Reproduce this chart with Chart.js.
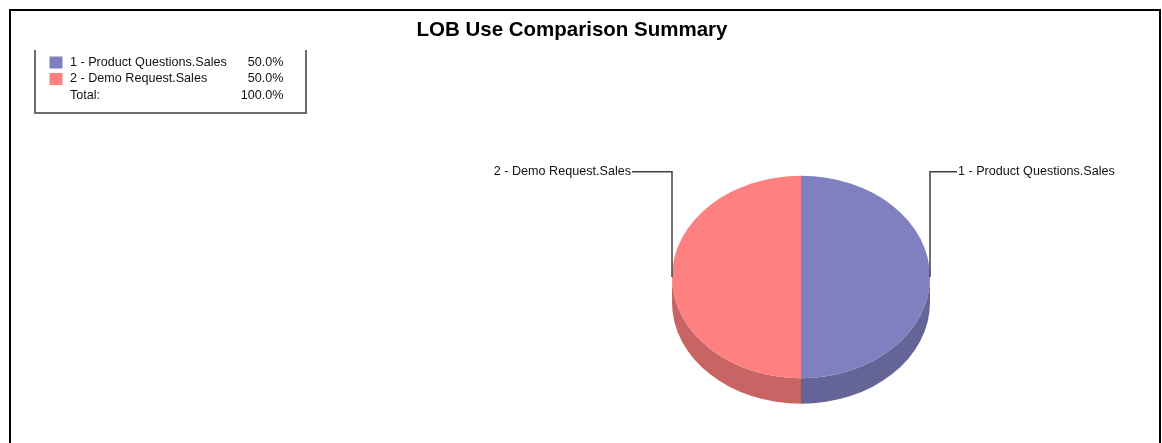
<!DOCTYPE html>
<html lang="en">
<head>
    <meta charset="UTF-8" />
    <title>LOB Use Comparison Summary</title>
    <style>
        body { margin: 0; background: #fff; }
        #wrap { position: relative; width: 1162px; height: 443px; }
    </style>
</head>
<body>
    <div id="wrap"><canvas id="myChart"></canvas></div>

    <script src="https://cdn.jsdelivr.net/npm/chart.js"></script>
    <script>
        // data
        const chartTitle = 'LOB Use Comparison Summary';
        const labels = ['1 - Product Questions.Sales', '2 - Demo Request.Sales'];
        const values = [50, 50];
        const colors = ['#8080c0', '#ff8080'];
        const sideColors = ['#646496', '#c86464'];
        const totalLabel = 'Total:';

        // look of the 3d pie
        const tilt = 0.785;      // vertical squash of the pie
        const depth = 25.5;      // height of the side wall
        const leaderLen = [27, 40];
        const font = '"Liberation Sans", Arial, sans-serif';

        const total = values.reduce((a, b) => a + b, 0);
        const pct = v => (v / total * 100).toFixed(1) + '%';

        const pie3d = {
            id: 'pie3d',
            beforeDraw(chart) {
                const ctx = chart.ctx;
                ctx.save();
                // outer frame
                ctx.strokeStyle = '#000';
                ctx.lineWidth = 2;
                ctx.strokeRect(10, 10, 1150, 500);

                // title
                ctx.fillStyle = '#000';
                ctx.font = 'bold 20.5px ' + font;
                ctx.textAlign = 'center';
                ctx.textBaseline = 'alphabetic';
                ctx.fillText(chartTitle, 572, 36);

                // legend box (open on top)
                ctx.strokeStyle = '#6a6a6a';
                ctx.lineWidth = 2;
                ctx.beginPath();
                ctx.moveTo(35, 50);
                ctx.lineTo(35, 113);
                ctx.lineTo(306, 113);
                ctx.lineTo(306, 50);
                ctx.stroke();

                ctx.font = '12.6px ' + font;
                ctx.textBaseline = 'middle';
                labels.forEach((lb, i) => {
                    const y = 62.5 + i * 16.5;
                    ctx.fillStyle = colors[i];
                    ctx.fillRect(49.5, y - 6, 13, 12);
                    ctx.fillStyle = '#111';
                    ctx.textAlign = 'left';
                    ctx.fillText(lb, 70, y);
                    ctx.textAlign = 'right';
                    ctx.fillText(pct(values[i]), 283.5, y);
                });
                const yt = 62.5 + labels.length * 16.5;
                ctx.textAlign = 'left';
                ctx.fillText(totalLabel, 70, yt);
                ctx.textAlign = 'right';
                ctx.fillText(pct(total), 283.5, yt);
                ctx.restore();
            },
            beforeDatasetsDraw(chart) {
                const ctx = chart.ctx;
                const meta = chart.getDatasetMeta(0);
                const cx = meta.data[0].x, cy = meta.data[0].y;
                ctx.save();
                ctx.translate(cx, cy);
                ctx.scale(1, tilt);
                ctx.translate(-cx, -cy);
                const d = depth / tilt;
                meta.data.forEach((arc, i) => {
                    const r = arc.outerRadius;
                    [0, -2 * Math.PI].forEach(shift => {
                        const a0 = Math.max(arc.startAngle + shift, 0);
                        const a1 = Math.min(arc.endAngle + shift, Math.PI);
                        if (a1 <= a0) return;
                        ctx.beginPath();
                        ctx.arc(cx, cy, r, a0, a1);
                        ctx.arc(cx, cy + d, r, a1, a0, true);
                        ctx.closePath();
                        ctx.fillStyle = sideColors[i];
                        ctx.fill();
                    });
                });
            },
            afterDatasetsDraw(chart) {
                chart.ctx.restore();
            },
            afterDraw(chart) {
                const ctx = chart.ctx;
                const meta = chart.getDatasetMeta(0);
                ctx.save();
                ctx.strokeStyle = '#404040';
                ctx.lineWidth = 1.5;
                ctx.fillStyle = '#111';
                ctx.font = '12.6px ' + font;
                ctx.textBaseline = 'middle';
                meta.data.forEach((arc, i) => {
                    const mid = (arc.startAngle + arc.endAngle) / 2;
                    const r = arc.outerRadius;
                    const x0 = arc.x + r * Math.cos(mid);
                    const y0 = arc.y + r * Math.sin(mid) * tilt;
                    const yl = arc.y - r * tilt - 4;
                    const dir = Math.cos(mid) >= 0 ? 1 : -1;
                    const x1 = x0 + dir * leaderLen[i];
                    ctx.beginPath();
                    ctx.moveTo(x0, y0);
                    ctx.lineTo(x0, yl);
                    ctx.lineTo(x1, yl);
                    ctx.stroke();
                    ctx.textAlign = dir > 0 ? 'left' : 'right';
                    ctx.fillText(labels[i], x1 + dir, yl);
                });
                ctx.restore();
            }
        };

        const data = {
            labels: labels,
            datasets: [{
                data: values,
                backgroundColor: colors,
                borderWidth: 0,
                clip: false
            }]
        };

        const config = {
            type: 'pie',
            data: data,
            options: {
                responsive: true,
                maintainAspectRatio: false,
                animation: false,
                events: [],
                layout: { padding: { left: 672, right: 232, top: 148, bottom: 37 } },
                plugins: {
                    legend: { display: false },
                    title: { display: false },
                    tooltip: { enabled: false }
                }
            },
            plugins: [pie3d]
        };

        const myChart = new Chart(document.getElementById('myChart'), config);
    </script>
</body>
</html>
